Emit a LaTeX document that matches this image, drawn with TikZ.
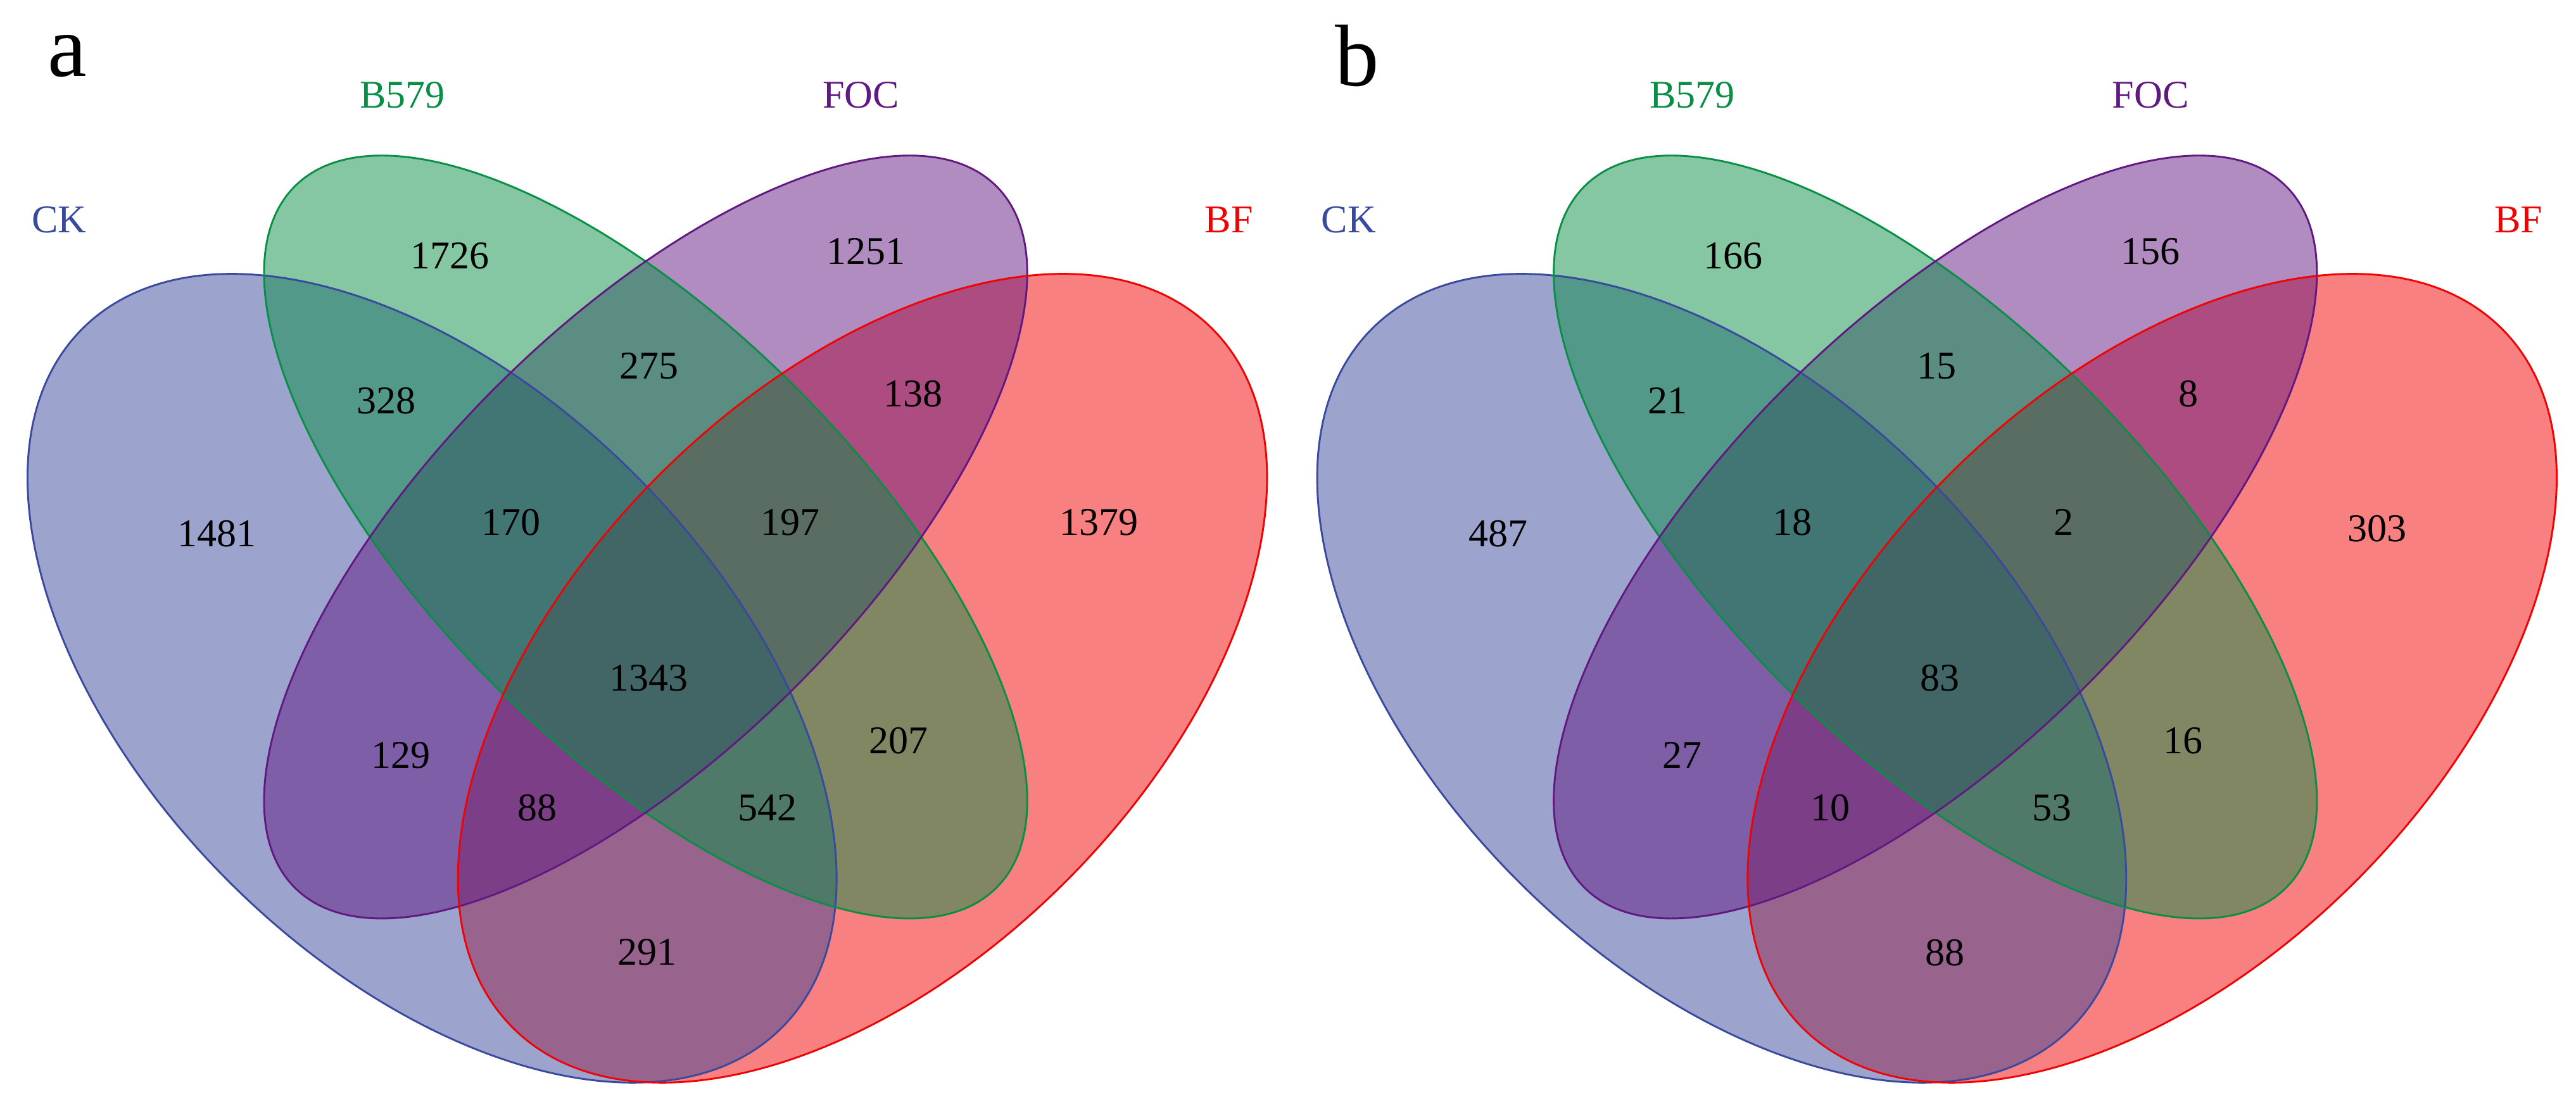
\documentclass[tikz,border=0pt]{standalone}
\usepackage{fontspec}
\setmainfont{Liberation Serif}
\definecolor{ckc}{HTML}{39499D}
\definecolor{gc}{HTML}{098F45}
\definecolor{pc}{HTML}{611981}
\definecolor{rc}{HTML}{F10202}
\begin{document}
\begin{tikzpicture}[x=0.025cm,y=-0.025cm,
  set/.style={fill opacity=0.5},
  edge/.style={line width=0.8pt},
  num/.style={font=\fontsize{17}{17}\selectfont},
  lab/.style={font=\fontsize{17}{17}\selectfont},
  panel/.style={font=\fontsize{38}{38}\selectfont}]
\useasboundingbox (0,0) rectangle (1568,675);
\foreach \dx/\p in {0/a,785/b}{
  \begin{scope}[xshift=\dx*0.025cm]
  \fill[rc,set] [rotate around={45:(525,413)}] (525,413) ellipse [x radius=301,y radius=175];
  \fill[ckc,set] [rotate around={-45:(263,413)}] (263,413) ellipse [x radius=301,y radius=175];
  \fill[pc,set] [rotate around={45:(393,327)}] (393,327) ellipse [x radius=302,y radius=129];
  \fill[gc,set] [rotate around={-45:(393,327)}] (393,327) ellipse [x radius=302,y radius=129];
  \draw[ckc,edge] [rotate around={-45:(263,413)}] (263,413) ellipse [x radius=301,y radius=175];
  \draw[gc,edge] [rotate around={-45:(393,327)}] (393,327) ellipse [x radius=302,y radius=129];
  \draw[pc,edge] [rotate around={45:(393,327)}] (393,327) ellipse [x radius=302,y radius=129];
  \draw[rc,edge] [rotate around={45:(525,413)}] (525,413) ellipse [x radius=301,y radius=175];
  \node[panel] (P\p) at (41,34) {\p};
  \node[lab,text=ckc] (CK\p) at (36,134) {CK};
  \node[lab,text=gc] (B\p) at (245,58) {B579};
  \node[lab,text=pc] (F\p) at (524,58) {FOC};
  \node[lab,text=rc] (BF\p) at (748,134) {BF};
  \end{scope}
}
\begin{scope}[every node/.style={num}]
\node (a1) at (274,156) {1726}; \node (a2) at (527,153) {1251};
\node (a3) at (235,244) {328}; \node (a4) at (395,223) {275};
\node (a5) at (556,240) {138}; \node (a6) at (132,325) {1481};
\node (a7) at (311,318) {170}; \node (a8) at (481,318) {197};
\node (a9) at (669,318) {1379}; \node (a10) at (395,413) {1343};
\node (a11) at (244,460) {129}; \node (a12) at (547,451) {207};
\node (a13) at (327,492) {88}; \node (a14) at (467,492) {542};
\node (a15) at (394,580) {291};
\begin{scope}[xshift=785*0.025cm]
\node (b1) at (270,156) {166}; \node (b2) at (524,153) {156};
\node (b3) at (230,244) {21}; \node (b4) at (394,223) {15};
\node (b5) at (547,240) {8}; \node (b6) at (127,325) {487};
\node (b7) at (306,318) {18}; \node (b8) at (471,318) {2};
\node (b9) at (662,322) {303}; \node (b10) at (396,413) {83};
\node (b11) at (239,460) {27}; \node (b12) at (544,451) {16};
\node (b13) at (329,492) {10}; \node (b14) at (464,492) {53};
\node (b15) at (399,580) {88};
\end{scope}
\end{scope}
\end{tikzpicture}
\end{document}
